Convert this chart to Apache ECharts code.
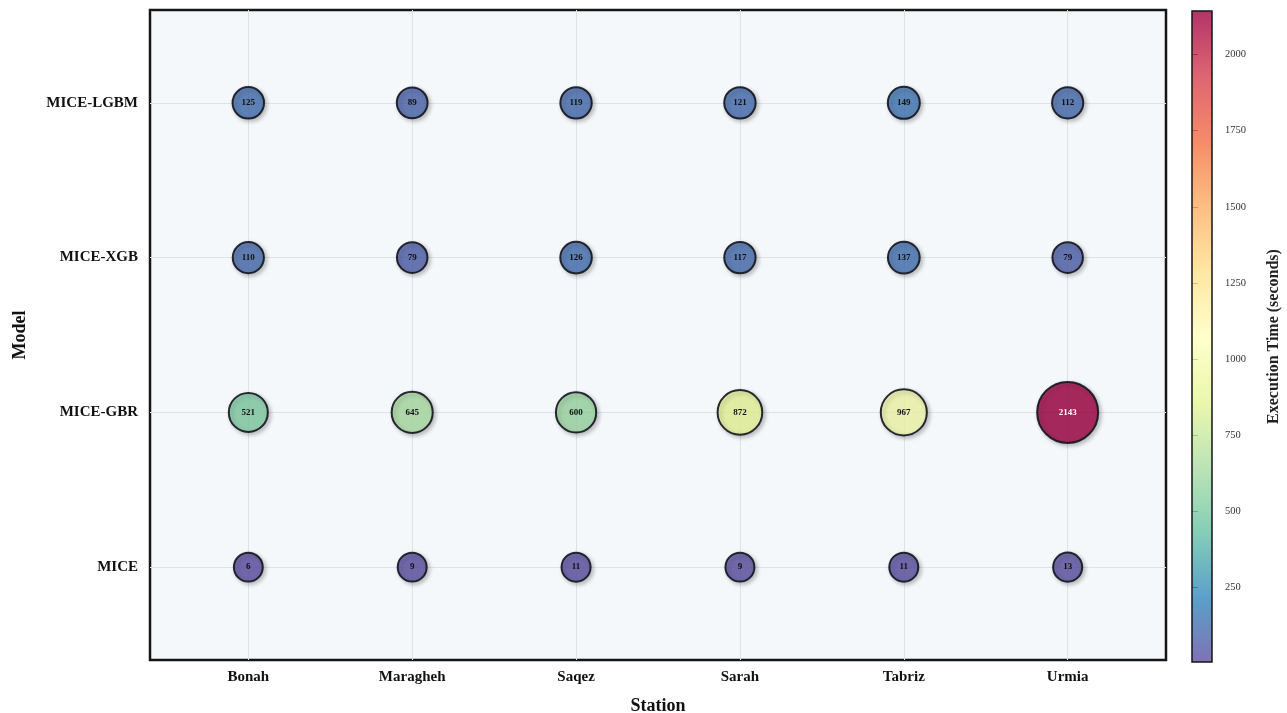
<!DOCTYPE html>
<html>
<head>
<meta charset="utf-8">
<script src="https://cdn.jsdelivr.net/npm/echarts@6/dist/echarts.min.js"></script>
<style>
  html, body { margin: 0; padding: 0; background: #ffffff; }
  #chart { width: 1287px; height: 713px; }
</style>
</head>
<body>
<div id="chart"></div>
<script>
// Stations (x) and models (y)
const stations = ['Bonah', 'Maragheh', 'Saqez', 'Sarah', 'Tabriz', 'Urmia'];
const models = ['MICE', 'MICE-GBR', 'MICE-XGB', 'MICE-LGBM'];

// Execution time in seconds, one array per model, ordered by station
const timeMICE = [6, 9, 11, 9, 11, 13];
const timeGBR = [521, 645, 600, 872, 967, 2143];
const timeXGB = [110, 79, 126, 117, 137, 79];
const timeLGBM = [125, 89, 119, 121, 149, 112];

// Colorbar tick labels
const colorbarTicks = [250, 500, 750, 1000, 1250, 1500, 1750, 2000];

const rows = [timeMICE, timeGBR, timeXGB, timeLGBM];
const allValues = rows.flat();
const vMin = Math.min(...allValues);
const vMax = Math.max(...allValues);

// Spectral (reversed) colormap, low -> high, with 0.8 opacity
const spectralR = [
  'rgba(94,79,162,0.8)', 'rgba(50,136,189,0.8)', 'rgba(102,194,165,0.8)',
  'rgba(171,221,164,0.8)', 'rgba(230,245,152,0.8)', 'rgba(255,255,191,0.8)',
  'rgba(254,224,139,0.8)', 'rgba(253,174,97,0.8)', 'rgba(244,109,67,0.8)',
  'rgba(213,62,79,0.8)', 'rgba(158,1,66,0.8)'
];

const points = [];
rows.forEach((row, yi) => {
  row.forEach((v, xi) => {
    points.push({
      value: [xi, yi, v],
      label: { color: v > 1500 ? '#ffffff' : '#111111' }
    });
  });
});

const serif = '"Liberation Serif", "DejaVu Serif", serif';
const chart = echarts.init(document.getElementById('chart'));

chart.setOption({
  backgroundColor: '#ffffff',
  animation: false,
  grid: [
    {
      left: 150, top: 10, width: 1016, height: 650,
      outerBoundsMode: 'none',
      show: true, backgroundColor: '#f5f8fb',
      borderColor: '#151515', borderWidth: 2.5
    },
    {
      left: 1192, top: 11, width: 20, height: 651,
      outerBoundsMode: 'none',
      show: true, z: 5,
      borderColor: '#151515', borderWidth: 1.5,
      backgroundColor: {
        type: 'linear', x: 0, y: 1, x2: 0, y2: 0,
        colorStops: spectralR.map((c, i) => ({ offset: i / (spectralR.length - 1), color: c }))
      }
    }
  ],
  visualMap: {
    show: false,
    type: 'continuous',
    seriesIndex: 0,
    dimension: 2,
    min: vMin,
    max: vMax,
    inRange: { color: spectralR }
  },
  xAxis: [
    {
      gridIndex: 0,
      type: 'value',
      min: -0.6, max: 5.6,
      name: 'Station',
      nameLocation: 'middle',
      nameGap: 37,
      nameTextStyle: { fontFamily: serif, fontWeight: 'bold', fontSize: 18, color: '#111' },
      axisLine: { show: false },
      axisTick: { show: false, customValues: stations.map((_, i) => i) },
      axisLabel: {
        customValues: stations.map((_, i) => i),
        formatter: v => stations[Math.round(v)] || '',
        fontFamily: serif, fontWeight: 'bold', fontSize: 15, color: '#111', margin: 10
      },
      splitLine: { show: true, lineStyle: { color: '#dfe2e6', width: 1 } }
    },
    {
      gridIndex: 1, type: 'value', show: false, min: 0, max: 1
    }
  ],
  yAxis: [
    {
      gridIndex: 0,
      type: 'value',
      min: -0.6, max: 3.6,
      name: 'Model',
      nameLocation: 'middle',
      nameGap: 121,
      nameRotate: 90,
      nameTextStyle: { fontFamily: serif, fontWeight: 'bold', fontSize: 18, color: '#111' },
      axisLine: { show: false },
      axisTick: { show: false, customValues: models.map((_, i) => i) },
      axisLabel: {
        customValues: models.map((_, i) => i),
        formatter: v => models[Math.round(v)] || '',
        fontFamily: serif, fontWeight: 'bold', fontSize: 15, color: '#111', margin: 12
      },
      splitLine: { show: true, lineStyle: { color: '#dfe2e6', width: 1 } }
    },
    {
      gridIndex: 1,
      type: 'value',
      position: 'right',
      min: vMin, max: vMax,
      name: 'Execution Time (seconds)',
      nameLocation: 'middle',
      nameGap: 54,
      nameRotate: 90,
      nameTextStyle: { fontFamily: serif, fontWeight: 'bold', fontSize: 16, color: '#222' },
      axisLine: { show: false },
      splitLine: { show: false },
      axisTick: {
        show: true, inside: false, length: 6,
        customValues: colorbarTicks,
        lineStyle: { color: '#333', width: 1 }
      },
      axisLabel: {
        customValues: colorbarTicks,
        formatter: v => String(v),
        fontFamily: serif, fontSize: 10.5, color: '#333', margin: 13
      }
    }
  ],
  series: [
    {
      type: 'scatter',
      xAxisIndex: 0,
      yAxisIndex: 0,
      data: points,
      symbolSize: d => Math.sqrt(946 + 1.41 * d[2]) - 2,
      itemStyle: {
        borderColor: 'rgba(20,20,30,0.9)',
        borderWidth: 2,
        shadowColor: 'rgba(0,0,0,0.28)',
        shadowBlur: 4,
        shadowOffsetX: 2,
        shadowOffsetY: 2,
        opacity: 1
      },
      label: {
        show: true,
        position: 'inside',
        formatter: p => String(p.value[2]),
        fontFamily: serif,
        fontWeight: 'bold',
        fontSize: 9
      },
      z: 3
    }
  ]
});
</script>
</body>
</html>
